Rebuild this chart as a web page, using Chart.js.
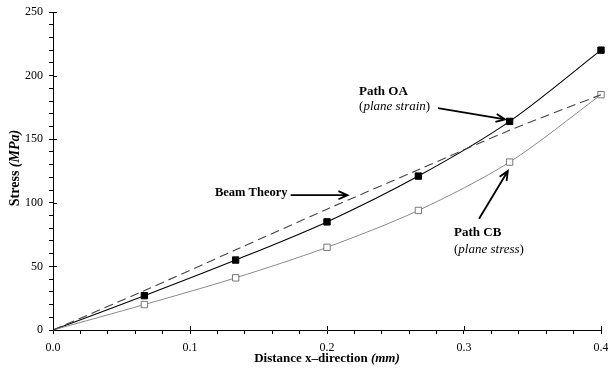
<!DOCTYPE html>
<html>
<head>
<meta charset="utf-8">
<script src="https://cdn.jsdelivr.net/npm/chart.js@4.4.0/dist/chart.umd.min.js"></script>
<style>
html, body { margin: 0; padding: 0; background: #fff; }
</style>
</head>
<body>
<canvas id="mycanvas" width="608" height="370"></canvas>
<script>
// values
var distance = [0, 0.0667, 0.1333, 0.2, 0.2667, 0.3333, 0.4];
var pathOA = [0, 27, 55, 85, 121, 164, 220];
var pathCB = [0, 20, 41, 65, 94, 132, 185];
var beamTheory = [0, 31, 63, 95, 126, 157, 185];
var xTickLabels = ['0.0', '0.1', '0.2', '0.3', '0.4'];
var yTickLabels = ['0', '50', '100', '150', '200', '250'];

var serif = '"Liberation Serif", "Times New Roman", serif';

function pairs(ys) {
	var out = [];
	for (var i in distance) {
		out.push({x: distance[i], y: ys[i]});
	}
	return out;
}

// no marker at the origin
function markerSize(c) {
	return c.dataIndex === 0 ? 0 : 4.5;
}

// annotation texts, placed in data units
var notes = [
	{x: 0.2234, y: 187.5, runs: [['Path OA', 'bold 13px ' + serif]]},
	{x: 0.2234, y: 175.5, runs: [['(', '13px ' + serif], ['plane strain', 'italic 13px ' + serif], [')', '13px ' + serif]]},
	{x: 0.1182, y: 108, runs: [['Beam Theory', 'bold 12.5px ' + serif]]},
	{x: 0.2927, y: 76.5, runs: [['Path CB', 'bold 13px ' + serif]]},
	{x: 0.2927, y: 63, runs: [['(', '13px ' + serif], ['plane stress', 'italic 13px ' + serif], [')', '13px ' + serif]]}
];
var arrows = [
	{from: [0.2810, 174.5], to: [0.3300, 165.5]},
	{from: [0.1735, 106], to: [0.2150, 106]},
	{from: [0.3110, 87.5], to: [0.3320, 125]}
];

function drawRuns(ctx, runs, x, y, align) {
	var w = 0;
	runs.forEach(function(r) { ctx.font = r[1]; w += ctx.measureText(r[0]).width; });
	var sx = align === 'center' ? x - w / 2 : x;
	ctx.textAlign = 'left';
	ctx.textBaseline = 'middle';
	ctx.fillStyle = '#000';
	runs.forEach(function(r) {
		ctx.font = r[1];
		ctx.fillText(r[0], sx, y);
		sx += ctx.measureText(r[0]).width;
	});
}

function drawArrow(ctx, x1, y1, x2, y2) {
	var a = Math.atan2(y2 - y1, x2 - x1);
	var len = 10, spread = 0.42;
	ctx.save();
	ctx.strokeStyle = '#000';
	ctx.lineWidth = 1.8;
	ctx.beginPath();
	ctx.moveTo(x1, y1);
	ctx.lineTo(x2, y2);
	ctx.moveTo(x2 - len * Math.cos(a - spread), y2 - len * Math.sin(a - spread));
	ctx.lineTo(x2, y2);
	ctx.lineTo(x2 - len * Math.cos(a + spread), y2 - len * Math.sin(a + spread));
	ctx.stroke();
	ctx.restore();
}

var extras = {
	id: 'extras',
	afterDraw: function(chart) {
		var ctx = chart.ctx;
		var xs = chart.scales.x, ys = chart.scales.y, area = chart.chartArea;
		var i, p;
		ctx.save();
		// major ticks cross the axes
		ctx.strokeStyle = '#000';
		ctx.lineWidth = 1;
		ctx.beginPath();
		for (i = 0; i < xTickLabels.length; i++) {
			p = Math.round(xs.getPixelForValue(i / 10)) + 0.5;
			ctx.moveTo(p, area.bottom - 4);
			ctx.lineTo(p, area.bottom);
		}
		for (i = 1; i < yTickLabels.length; i++) {
			p = Math.round(ys.getPixelForValue(i * 50)) + 0.5;
			ctx.moveTo(area.left, p);
			ctx.lineTo(area.left + 4, p);
		}
		ctx.stroke();

		notes.forEach(function(n) {
			drawRuns(ctx, n.runs, xs.getPixelForValue(n.x), ys.getPixelForValue(n.y), 'left');
		});
		arrows.forEach(function(a) {
			drawArrow(ctx, xs.getPixelForValue(a.from[0]), ys.getPixelForValue(a.from[1]),
				xs.getPixelForValue(a.to[0]), ys.getPixelForValue(a.to[1]));
		});

		// axis titles
		drawRuns(ctx, [['Distance x\u2013direction ', 'bold 13px ' + serif], ['(mm)', 'bold italic 13px ' + serif]],
			(area.left + area.right) / 2, 359, 'center');
		ctx.translate(15, 168);
		ctx.rotate(-Math.PI / 2);
		drawRuns(ctx, [['Stress ', 'bold 14px ' + serif], ['(MPa)', 'bold italic 14px ' + serif]], 0, 0, 'center');
		ctx.restore();
	}
};

var chartdata = {
	datasets: [
		{
			label: 'Beam Theory',
			data: pairs(beamTheory),
			borderColor: '#444',
			borderWidth: 1.1,
			borderDash: [9, 5],
			pointRadius: 0,
			tension: 0.3,
			clip: false,
			fill: false
		},
		{
			label: 'Path CB (plane stress)',
			data: pairs(pathCB),
			borderColor: '#8a8a8a',
			borderWidth: 1,
			pointStyle: 'rect',
			pointRadius: markerSize,
			pointBorderColor: '#777',
			pointBackgroundColor: '#fff',
			pointBorderWidth: 1,
			tension: 0.3,
			clip: false,
			fill: false
		},
		{
			label: 'Path OA (plane strain)',
			data: pairs(pathOA),
			borderColor: '#000',
			borderWidth: 1.1,
			pointStyle: 'rect',
			pointRadius: markerSize,
			pointBorderColor: '#000',
			pointBackgroundColor: '#000',
			pointBorderWidth: 1,
			tension: 0.3,
			clip: false,
			fill: false
		}
	]
};

var ctx = document.getElementById('mycanvas');

var stressChart = new Chart(ctx, {
	type: 'line',
	data: chartdata,
	options: {
		responsive: false,
		animation: false,
		layout: { padding: { top: 12, right: 7, left: 0, bottom: 0 } },
		plugins: {
			legend: { display: false },
			tooltip: { enabled: false }
		},
		scales: {
			x: {
				type: 'linear',
				min: 0,
				max: 0.4,
				border: { color: '#000', width: 1 },
				grid: { drawOnChartArea: false, drawTicks: true, tickLength: 4, color: '#000' },
				ticks: {
					stepSize: 0.02,
					autoSkip: false,
					maxRotation: 0,
					padding: 7,
					color: '#000',
					font: { family: serif, size: 12 },
					callback: function(v) {
						var k = v * 10;
						if (Math.abs(k - Math.round(k)) < 1e-6) return xTickLabels[Math.round(k)];
						return '';
					}
				},
				afterFit: function(scale) {
					scale.height = 40;
					scale.paddingLeft = 0;
					scale.paddingRight = 0;
				}
			},
			y: {
				min: 0,
				max: 250,
				border: { color: '#000', width: 1 },
				grid: { drawOnChartArea: false, drawTicks: true, tickLength: 4, color: '#000' },
				ticks: {
					stepSize: 10,
					autoSkip: false,
					padding: 6,
					color: '#000',
					font: { family: serif, size: 12 },
					callback: function(v) {
						if (v % 50 === 0) return yTickLabels[v / 50];
						return '';
					}
				},
				afterFit: function(scale) {
					scale.width = 53;
					scale.paddingTop = 0;
					scale.paddingBottom = 0;
				}
			}
		}
	},
	plugins: [extras]
});
</script>
</body>
</html>
